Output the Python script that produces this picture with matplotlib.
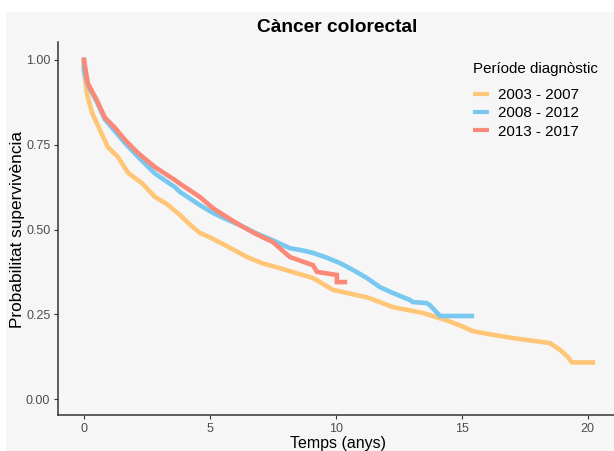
import matplotlib
matplotlib.use("Agg")
import matplotlib.pyplot as plt
from matplotlib.patches import Rectangle

plt.rcParams['font.family'] = ['Liberation Sans', 'DejaVu Sans']

title = "Càncer colorectal"
legend_title = "Període diagnòstic"
series_names = ["2003 - 2007", "2008 - 2012", "2013 - 2017"]
x_ticks = [0, 5, 10, 15, 20]
y_ticks = [0.00, 0.25, 0.50, 0.75, 1.00]

t_2003 = [0, 0, 0.12, 0.32, 0.63, 0.95, 1.35, 1.75, 2.3, 2.82, 3.29, 3.81, 4.2, 4.6, 5.0,
          5.7, 6.47, 7.1, 7.78, 8.4, 9.09, 9.88, 10.5, 11.23, 11.75, 12.26, 12.9, 13.45, 14.4,
          15.0, 15.44, 16.2, 17.02, 17.8, 18.5, 18.9, 19.2, 19.37, 20.2]
s_2003 = [1.0, 0.97, 0.90, 0.844, 0.794, 0.743, 0.714, 0.667, 0.637, 0.596, 0.575, 0.543, 0.515, 0.49, 0.477,
          0.45, 0.419, 0.40, 0.386, 0.372, 0.357, 0.322, 0.312, 0.30, 0.286, 0.271, 0.262, 0.254, 0.232,
          0.215, 0.20, 0.19, 0.18, 0.172, 0.165, 0.145, 0.125, 0.108, 0.108]

t_2008 = [0, 0, 0.16, 0.52, 0.83, 1.23, 1.63, 2.14, 2.82, 3.61, 3.81, 4.6, 5.12, 5.6, 6.19, 6.8,
          7.5, 8.17, 8.7, 9.09, 9.6, 10.16, 10.7, 11.23, 11.75, 12.26, 12.94, 13.06, 13.6, 13.73,
          14.05, 14.13, 15.4]
s_2008 = [1.0, 0.97, 0.925, 0.875, 0.825, 0.79, 0.755, 0.715, 0.665, 0.625, 0.611, 0.572, 0.549, 0.532, 0.513, 0.49,
          0.468, 0.445, 0.438, 0.431, 0.418, 0.401, 0.38, 0.357, 0.33, 0.313, 0.292, 0.286, 0.283, 0.277,
          0.252, 0.245, 0.245]

t_2013 = [0, 0.16, 0.52, 0.83, 1.23, 1.63, 2.14, 2.82, 3.61, 3.81, 4.6, 5.12, 5.6, 6.19, 6.8,
          7.5, 8.17, 8.7, 9.09, 9.25, 10.04, 10.04, 10.36]
s_2013 = [1.0, 0.93, 0.88, 0.83, 0.80, 0.764, 0.726, 0.684, 0.646, 0.635, 0.596, 0.563, 0.54, 0.513, 0.488,
          0.463, 0.419, 0.405, 0.395, 0.375, 0.366, 0.345, 0.345]

colors = ["#FFC677", "#78C8F0", "#FA8A77"]

W, H = 614, 451
fig = plt.figure(figsize=(W / 100, H / 100), dpi=100)
fig.patch.set_facecolor("white")
fig.patches.append(Rectangle((6 / W, 0), 1, 1 - 12 / H, transform=fig.transFigure,
                             facecolor="#F6F6F6", edgecolor="none", zorder=-10))

ax = fig.add_axes([58 / W, (H - 415) / H, (618 - 58) / W, (415 - 42) / H])
ax.set_facecolor("none")

for t, s, c, name in zip([t_2003, t_2008, t_2013], [s_2003, s_2008, s_2013], colors, series_names):
    ax.plot(t, s, color=c, lw=3.3, label=name, solid_joinstyle='miter')

ax.set_xlim(-1.03, 21.2)
ax.set_ylim(-0.047, 1.053)
ax.set_xticks(x_ticks)
ax.set_xticklabels([str(v) for v in x_ticks])
ax.set_yticks(y_ticks)
ax.set_yticklabels([f"{v:.2f}" for v in y_ticks])
for sp in ["top", "right"]:
    ax.spines[sp].set_visible(False)
for sp in ["left", "bottom"]:
    ax.spines[sp].set_color("#333333")
    ax.spines[sp].set_linewidth(1.1)
ax.tick_params(colors="#333333", labelcolor="#4D4D4D", labelsize=9, length=3, pad=2.5)

ax.set_xlabel("Temps (anys)", fontsize=11.5, labelpad=1)
fig.text(18 / W, 1 - 230 / H, "Probabilitat supervivència", fontsize=12.4, rotation=90,
         ha="center", va="center")
fig.text(337 / W, 1 - 27 / H, title, fontsize=13.8, fontweight="bold", ha="center", va="center")

leg = ax.legend(title=legend_title, loc="upper left", bbox_to_anchor=((468 - 58) / (618 - 58), (415 - 57) / (415 - 42)),
                frameon=False, fontsize=10.9, title_fontsize=10.9, handlelength=1.1, handletextpad=0.55,
                labelspacing=0.28, borderaxespad=0, borderpad=0.3)
leg._legend_box.align = "left"
leg._legend_box.sep = 9
for line in leg.get_lines():
    line.set_linewidth(3.0)
    line.set_solid_capstyle("butt")

fig.savefig("out.png", dpi=100)
